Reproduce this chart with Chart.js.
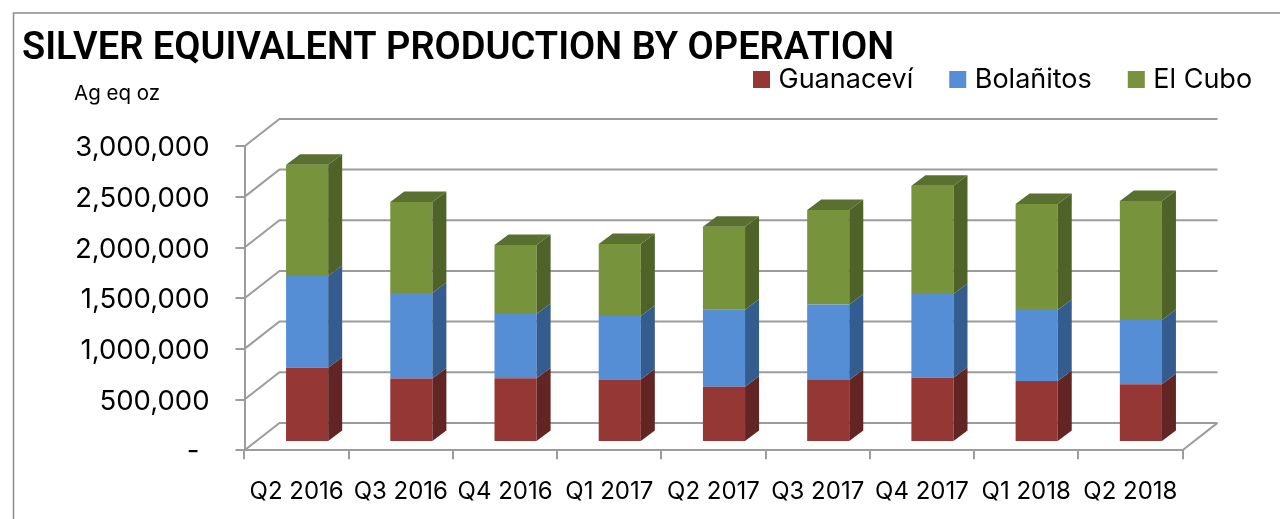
<!DOCTYPE html>
<html>
<head>
<meta charset="utf-8">
<style>
  html, body { margin: 0; background: #fff; }
  #wrap { position: relative; width: 1280px; height: 519px; overflow: hidden; }
  canvas { display: block; }
</style>
<script src="https://cdn.jsdelivr.net/npm/chart.js@4"></script>
</head>
<body>
<div id="wrap"><canvas id="chart" width="1280" height="519"></canvas></div>
<script>
const titleText = 'SILVER EQUIVALENT PRODUCTION BY OPERATION';
const unitLabel = 'Ag eq oz';
const quarters = ['Q2 2016', 'Q3 2016', 'Q4 2016', 'Q1 2017', 'Q2 2017', 'Q3 2017', 'Q4 2017', 'Q1 2018', 'Q2 2018'];
const guanacevi = [731000, 626000, 629000, 615000, 545000, 610000, 634000, 600000, 570000];
const bolanitos = [906000, 843000, 632000, 628000, 758000, 746000, 825000, 701000, 632000];
const elCubo = [1097000, 899000, 682000, 711000, 820000, 933000, 1070000, 1047000, 1176000];

const FONT = 'Inter';
const GRID = '#9c9c9c';
const FACES = [
  { front: '#953735', side: '#632523', top: '#7a2d2b' },
  { front: '#558ed5', side: '#355c8e', top: '#4472ab' },
  { front: '#77933c', side: '#4f6228', top: '#5a7030' },
];

// back wall offset, bar plane offset and bar depth (px)
const WALL = { x: 35, y: 27.3 };
const BAR_SHIFT = { x: 10.5, y: 8.3 };
const BAR_DEPTH = { x: 14, y: 10.5 };

function poly(ctx, pts, fill) {
  ctx.beginPath();
  pts.forEach((p, i) => (i ? ctx.lineTo(p[0], p[1]) : ctx.moveTo(p[0], p[1])));
  ctx.closePath();
  ctx.fillStyle = fill;
  ctx.fill();
}

const fake3d = {
  id: 'fake3d',
  afterLayout(chart) {
    // title and legend are placed by hand, they share a band above the plot
    chart.titleBlock.left = 22;
    chart.legend.left = 717;
    chart.legend.right = 1320;
    chart.legend.top = 25;
  },
  beforeDraw(chart) {
    const ctx = chart.ctx;
    ctx.save();
    ctx.strokeStyle = '#8c8c8c';
    ctx.lineWidth = 1.5;
    ctx.beginPath();
    ctx.moveTo(13.5, 519);
    ctx.lineTo(13.5, 13);
    ctx.lineTo(1280, 13);
    ctx.stroke();
    ctx.fillStyle = '#000';
    ctx.font = '20.5px ' + FONT;
    ctx.textBaseline = 'middle';
    ctx.fillText(unitLabel, 74, 94);
    ctx.restore();
  },
  beforeDatasetsDraw(chart) {
    const { ctx, chartArea: a, scales: { y } } = chart;
    ctx.save();
    ctx.strokeStyle = GRID;
    ctx.lineWidth = 2;
    ctx.beginPath();
    y.ticks.forEach((t) => {
      const py = y.getPixelForValue(t.value);
      ctx.moveTo(a.left, py);
      ctx.lineTo(a.left + WALL.x, py - WALL.y);
      ctx.lineTo(a.right + WALL.x, py - WALL.y);
    });
    ctx.moveTo(a.right, a.bottom);
    ctx.lineTo(a.right + WALL.x, a.bottom - WALL.y);
    ctx.stroke();
    ctx.restore();
    // front faces are drawn by Chart.js, just pushed into the floor
    ctx.save();
    ctx.translate(BAR_SHIFT.x, -BAR_SHIFT.y);
  },
  afterDatasetsDraw(chart) {
    const ctx = chart.ctx;
    const dx = BAR_DEPTH.x, dy = BAR_DEPTH.y;
    chart.data.datasets.forEach((ds, i) => {
      chart.getDatasetMeta(i).data.forEach((bar) => {
        const r = bar.x + bar.width / 2;
        const l = bar.x - bar.width / 2;
        poly(ctx, [[r, bar.y], [r + dx, bar.y - dy], [r + dx, bar.base - dy], [r, bar.base]], FACES[i].side);
        if (i === chart.data.datasets.length - 1) {
          poly(ctx, [[l, bar.y], [l + dx, bar.y - dy], [r + dx, bar.y - dy], [r, bar.y]], FACES[i].top);
        }
      });
    });
    ctx.restore();
  },
};

const chart = new Chart(document.getElementById('chart'), {
  type: 'bar',
  data: {
    labels: quarters,
    datasets: [
      { label: 'Guanaceví', data: guanacevi, backgroundColor: FACES[0].front },
      { label: 'Bolañitos', data: bolanitos, backgroundColor: FACES[1].front },
      { label: 'El Cubo', data: elCubo, backgroundColor: FACES[2].front },
    ],
  },
  plugins: [fake3d],
  options: {
    responsive: false,
    animation: false,
    layout: { padding: { left: 0, top: 0, right: 97.5, bottom: 0 } },
    datasets: { bar: { categoryPercentage: 1, barPercentage: 0.404 } },
    plugins: {
      tooltip: { enabled: false },
      title: {
        display: true,
        text: titleText,
        align: 'start',
        color: '#000',
        font: { family: 'Roboto', size: 38, weight: '600', lineHeight: 1 },
        padding: { top: 30, bottom: 0.2 },
      },
      legend: {
        position: 'top',
        align: 'start',
        labels: {
          color: '#000',
          // small box with a thick stroke, keeps the text close to the swatch
          boxWidth: 7,
          boxHeight: 7,
          padding: 41,
          font: { family: FONT, size: 27 },
          generateLabels: (c) => Chart.defaults.plugins.legend.labels.generateLabels(c)
            .map((l) => ({ ...l, lineWidth: 10, strokeStyle: l.fillStyle })),
        },
      },
    },
    scales: {
      x: {
        stacked: true,
        afterFit: (s) => { s.height = 68.8; },
        border: { color: GRID, width: 2 },
        grid: { offset: true, drawOnChartArea: false, color: GRID, lineWidth: 2, tickLength: 9 },
        ticks: { color: '#000', font: { family: FONT, size: 24 }, maxRotation: 0, autoSkip: false, padding: 18 },
      },
      y: {
        stacked: true,
        min: 0,
        max: 3000000,
        afterFit: (s) => { s.width = 244.5; },
        border: { color: GRID, width: 2 },
        grid: { drawOnChartArea: false, color: GRID, lineWidth: 2, tickLength: 9 },
        ticks: {
          stepSize: 500000,
          color: '#000',
          font: { family: FONT, size: 27.5 },
          padding: 26,
          callback: (v) => (v === 0 ? '-\u2009\u2009' : v.toLocaleString('en-US')),
        },
      },
    },
  },
});

// y labels sit 2px under their ticks in the original
const yAxis = chart.scales.y;
const drawYLabels = yAxis.drawLabels.bind(yAxis);
yAxis.drawLabels = (area) => {
  chart.ctx.save();
  chart.ctx.translate(0, 2);
  drawYLabels(area);
  chart.ctx.restore();
};
chart.draw();
</script>
</body>
</html>
